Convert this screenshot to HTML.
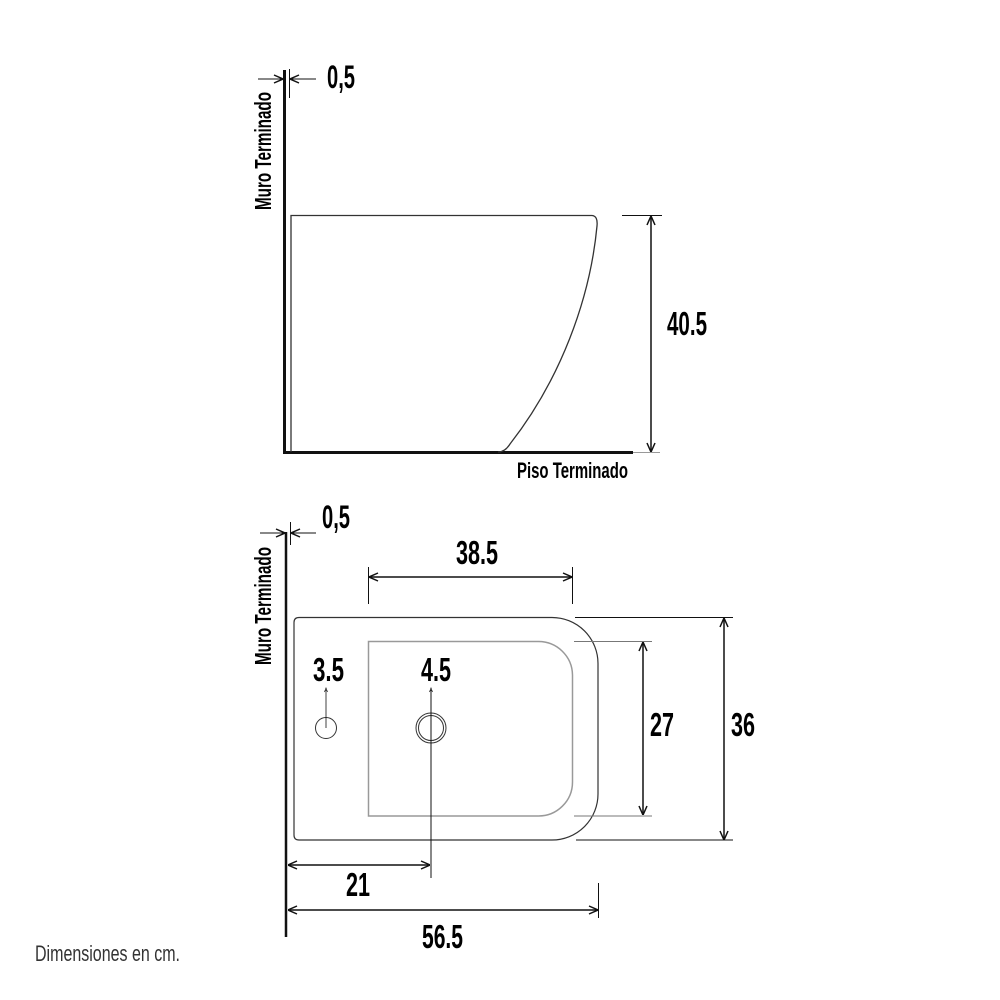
<!DOCTYPE html>
<html><head><meta charset="utf-8"><style>
html,body{margin:0;padding:0;background:#fff;width:1000px;height:1000px;overflow:hidden}
svg{display:block}
text{font-family:"Liberation Sans",sans-serif;fill:#000;font-weight:bold}
</style></head><body>
<svg width="1000" height="1000" viewBox="0 0 1000 1000" xmlns="http://www.w3.org/2000/svg">
<defs>
<marker id="a" viewBox="0 0 10 10" refX="10" refY="5" markerWidth="10" markerHeight="10" markerUnits="userSpaceOnUse" orient="auto-start-reverse">
<path d="M1,1 L10,5 L1,9" fill="none" stroke="#111" stroke-width="1.5"/>
</marker>
</defs>
<g stroke="#111" fill="none">
<line x1="284.5" y1="70" x2="284.5" y2="454" stroke-width="3"/>
<line x1="284" y1="452.5" x2="633" y2="452.5" stroke-width="3"/>
<line x1="633" y1="452.5" x2="660" y2="452.5" stroke="#999" stroke-width="1"/>
<line x1="258" y1="79" x2="283" y2="79" stroke-width="1" marker-end="url(#a)"/>
<line x1="289.5" y1="69" x2="289.5" y2="98" stroke-width="1"/>
<line x1="316" y1="79" x2="290" y2="79" stroke-width="1" marker-end="url(#a)"/>
<path d="M291,452 L291,215.5 L592,215.5 Q598,216 597,226 C590,300 560,380 510,444 Q505,452 498,452" stroke-width="1.3" stroke="#333"/>
<line x1="622" y1="215.5" x2="662" y2="215.5" stroke-width="1"/>
<line x1="651" y1="216" x2="651" y2="452" stroke-width="1.5" marker-start="url(#a)" marker-end="url(#a)"/>

<line x1="286" y1="532" x2="286" y2="937" stroke-width="2.5"/>
<line x1="260" y1="533" x2="285" y2="533" stroke-width="1" marker-end="url(#a)"/>
<line x1="290.5" y1="522" x2="290.5" y2="545" stroke-width="1"/>
<line x1="316" y1="533" x2="291" y2="533" stroke-width="1" marker-end="url(#a)"/>
<path d="M299,617.5 L552,617.5 A46,46 0 0 1 598,663.5 L598,794 A46,46 0 0 1 552,840 L299,840 Q294,840 294,835 L294,622.5 Q294,617.5 299,617.5 Z" stroke-width="1.2" stroke="#333"/>
<path d="M368.5,641.5 L538,641.5 A34,34 0 0 1 572.5,675 L572.5,782 A34,34 0 0 1 538,816 L368.5,816 Z" stroke-width="1.5" stroke="#999"/>
<circle cx="326" cy="728" r="10.5" stroke-width="1" stroke="#333"/>
<line x1="326" y1="690" x2="326" y2="728" stroke-width="0.8"/>
<circle cx="431" cy="728" r="15" stroke-width="1" stroke="#333"/>
<circle cx="431" cy="728" r="12.5" stroke-width="1" stroke="#333"/>
<line x1="431" y1="690" x2="431" y2="878" stroke-width="1"/>
<path d="M324.5,692 L326,688 L327.5,692 M429.5,692 L431,688 L432.5,692" stroke-width="0.7"/>
<line x1="368.5" y1="567" x2="368.5" y2="604" stroke-width="1"/>
<line x1="572.5" y1="567" x2="572.5" y2="604" stroke-width="1"/>
<line x1="369" y1="577" x2="572" y2="577" stroke-width="1.5" marker-start="url(#a)" marker-end="url(#a)"/>
<line x1="574" y1="641.5" x2="652" y2="641.5" stroke-width="1" stroke="#777"/>
<line x1="574" y1="816" x2="652" y2="816" stroke-width="1" stroke="#777"/>
<line x1="643" y1="642" x2="643" y2="815" stroke-width="1.5" marker-start="url(#a)" marker-end="url(#a)"/>
<line x1="575" y1="617.5" x2="733" y2="617.5" stroke-width="1"/>
<line x1="576" y1="840" x2="733" y2="840" stroke-width="1"/>
<line x1="724" y1="618" x2="724" y2="840" stroke-width="1.5" marker-start="url(#a)" marker-end="url(#a)"/>
<line x1="288" y1="865" x2="430" y2="865" stroke-width="1.5" marker-start="url(#a)" marker-end="url(#a)"/>
<line x1="598.5" y1="883" x2="598.5" y2="918" stroke-width="1"/>
<line x1="288" y1="910" x2="598" y2="910" stroke-width="1.5" marker-start="url(#a)" marker-end="url(#a)"/>
</g>

<g>
<text x="327" y="88" font-size="32" textLength="28" lengthAdjust="spacingAndGlyphs">0,5</text>
<text x="667" y="335" font-size="33" textLength="40" lengthAdjust="spacingAndGlyphs">40.5</text>
<text x="517" y="478" font-size="22" textLength="111" lengthAdjust="spacingAndGlyphs">Piso Terminado</text>
<text transform="translate(271,210) rotate(-90)" font-size="23" textLength="118" lengthAdjust="spacingAndGlyphs">Muro Terminado</text>

<text x="322" y="528" font-size="32" textLength="28" lengthAdjust="spacingAndGlyphs">0,5</text>
<text transform="translate(271,665) rotate(-90)" font-size="23" textLength="118" lengthAdjust="spacingAndGlyphs">Muro Terminado</text>
<text x="456" y="564" font-size="33" textLength="42" lengthAdjust="spacingAndGlyphs">38.5</text>
<text x="313" y="681" font-size="33" textLength="31" lengthAdjust="spacingAndGlyphs">3.5</text>
<text x="421" y="681" font-size="33" textLength="30" lengthAdjust="spacingAndGlyphs">4.5</text>
<text x="650" y="736" font-size="33" textLength="24" lengthAdjust="spacingAndGlyphs">27</text>
<text x="731" y="736" font-size="33" textLength="24" lengthAdjust="spacingAndGlyphs">36</text>
<text x="346" y="896" font-size="33" textLength="24" lengthAdjust="spacingAndGlyphs">21</text>
<text x="422" y="948" font-size="33" textLength="41" lengthAdjust="spacingAndGlyphs">56.5</text>
<text x="35" y="961" font-size="22" textLength="145" lengthAdjust="spacingAndGlyphs" style="fill:#333;font-weight:normal">Dimensiones en cm.</text>
</g>
</svg>
</body></html>
